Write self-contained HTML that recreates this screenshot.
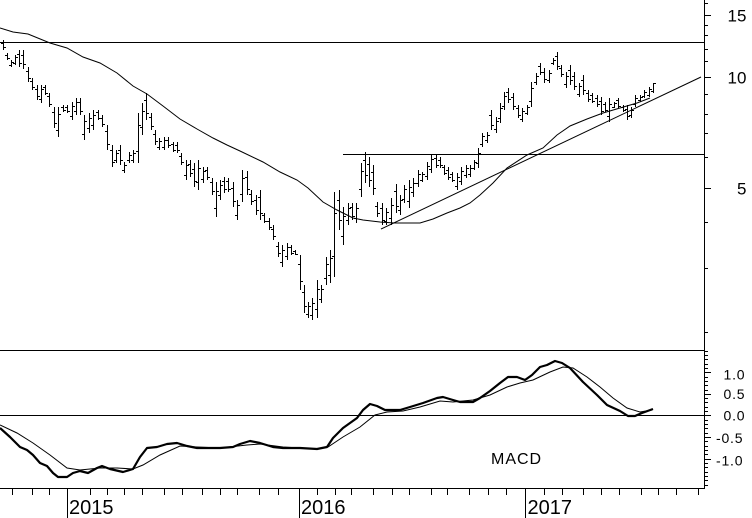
<!DOCTYPE html>
<html>
<head>
<meta charset="utf-8">
<style>
html,body{margin:0;padding:0;background:#fff;}
svg{display:block;}
text{font-family:"Liberation Sans",Arial,sans-serif;fill:#000;}
</style>
</head>
<body>
<svg width="752" height="518" viewBox="0 0 752 518" xmlns="http://www.w3.org/2000/svg">
<rect width="752" height="518" fill="#fff"/>

<!-- frame / axes -->
<g stroke="#000" stroke-width="1" shape-rendering="crispEdges" fill="none">
  <path d="M704.5 0V489"/>
  <path d="M0 42.5H704"/>
  <path d="M343 154.5H704"/>
  <path d="M0 350.5H704"/>
  <path d="M0 415.5H704"/>
  <path d="M0 488.5H704"/>
  <!-- price axis ticks -->
  <path d="M704 3.5h4M704 15.5h7M704 25.5h4M704 35.5h4M704 49.5h4M704 61.5h4M704 77.5h7M704 94.5h4M704 114.5h4M704 133.5h4M704 157.5h4M704 188.5h7M704 222.5h4M704 268.5h4M704 332.5h4"/>
  <!-- macd axis ticks -->
  <path d="M704 351.5h4M704 355.5h4M704 359.5h4M704 364.5h4M704 368.5h4M704 372.5h7M704 377.5h4M704 381.5h4M704 385.5h4M704 390.5h4M704 394.5h7M704 398.5h4M704 402.5h4M704 407.5h4M704 411.5h4M704 415.5h7M704 420.5h4M704 424.5h4M704 428.5h4M704 433.5h4M704 437.5h7M704 441.5h4M704 446.5h4M704 450.5h4M704 454.5h4M704 459.5h7M704 463.5h4M704 467.5h4M704 472.5h4M704 476.5h4M704 480.5h4M704 485.5h4"/>
  <!-- month ticks -->
  <path d="M12.5 488V495M32.5 488V495M49.5 488V495M90.5 488V495M107.5 488V495M124.5 488V495M142.5 488V495M164.5 488V495M182.5 488V495M202.5 488V495M220.5 488V495M237.5 488V495M259.5 488V495M278.5 488V495M317.5 488V495M335.5 488V495M351.5 488V495M373.5 488V495M392.5 488V495M409.5 488V495M431.5 488V495M447.5 488V495M469.5 488V495M488.5 488V495M506.5 488V495M544.5 488V495M562.5 488V495M583.5 488V495M601.5 488V495M619.5 488V495M641.5 488V495M658.5 488V495M676.5 488V495M698.5 488V495"/>
  <!-- year ticks -->
  <path d="M67.5 488V518M299.5 488V518M525.5 488V518"/>
</g>

<!-- price bars -->
<g stroke="#000" stroke-width="1" shape-rendering="crispEdges" fill="none">
<path d="M3.5 40V50M7.5 53V60M11.5 60V67M15.5 55V65M19.5 50V67M23.5 50V69M28.5 67V82M32.5 78V90M37.5 85V100M41.5 85V103M45.5 85V95M49.5 93V107M54.5 107V128M58.5 107V137M63.5 105V112M67.5 105V113M72.5 102V120M76.5 98V115M80.5 98V115M84.5 115V140M89.5 113V133M93.5 110V130M98.5 110V120M102.5 115V127M107.5 125V150M112.5 145V167M116.5 150V163M120.5 145V165M124.5 162V173M129.5 152V163M133.5 150V163M138.5 113V163M142.5 103V135M146.5 93V120M151.5 113V130M155.5 130V145M159.5 138V150M164.5 137V150M168.5 137V148M173.5 142V152M177.5 142V153M181.5 153V165M186.5 160V180M190.5 160V177M194.5 163V187M198.5 160V190M203.5 167V183M207.5 167V180M212.5 178V195M216.5 182V217M220.5 180V200M224.5 177V193M228.5 178V192M233.5 182V207M237.5 200V220M242.5 170V202M247.5 171V195M251.5 190V205M256.5 195V215M260.5 190V220M264.5 213V223M269.5 218V230M273.5 225V240M278.5 242V257M282.5 245V267M287.5 243V260M291.5 245V255M295.5 250V255M300.5 255V290M304.5 285V313M308.5 302V318M312.5 298V320M317.5 280V318M321.5 285V303M326.5 257V285M330.5 250V283M334.5 192V277M339.5 190V230M343.5 207V245M348.5 203V225M352.5 203V220M356.5 203V223M361.5 163V197M365.5 152V183M369.5 157V187M373.5 165V195M377.5 202V217M382.5 203V225M386.5 208V225M391.5 198V225M396.5 184V213M400.5 195V215M404.5 185V203M409.5 180V208M413.5 178V197M418.5 170V187M422.5 172V182M427.5 162V180M431.5 155V173M436.5 155V168M440.5 157V168M444.5 165V175M448.5 167V180M452.5 172V182M457.5 173V190M461.5 167V185M466.5 165V178M470.5 165V177M474.5 160V170M478.5 148V168M482.5 133V147M487.5 132V143M491.5 110V130M496.5 117V133M500.5 103V123M504.5 92V110M508.5 88V103M513.5 93V110M518.5 105V118M522.5 108V122M527.5 105V115M531.5 82V107M536.5 73V85M540.5 63V75M544.5 68V83M549.5 70V83M553.5 58V65M557.5 52V70M561.5 65V77M566.5 72V88M570.5 65V85M574.5 72V90M579.5 83V97M583.5 75V95M588.5 90V102M592.5 93V103M597.5 95V107M601.5 97V115M605.5 102V112M609.5 98V122M614.5 102V108M618.5 98V108M623.5 105V112M627.5 105V120M631.5 107V118M635.5 95V107M640.5 95V102M644.5 90V98M649.5 87V97M653.5 83V93"/>
<path d="M1 43.5h2M4 47.5h2M5 55.5h2M8 58.5h2M9 65.5h2M12 62.5h2M13 63.5h2M16 57.5h2M17 54.5h2M20 63.5h2M21 55.5h2M24 64.5h2M26 71.5h2M29 78.5h2M30 81.5h2M33 87.5h2M35 89.5h2M38 96.5h2M39 99.5h2M42 89.5h2M43 87.5h2M46 93.5h2M47 96.5h2M50 104.5h2M52 112.5h2M55 123.5h2M56 130.5h2M59 114.5h2M61 107.5h2M64 110.5h2M65 107.5h2M68 111.5h2M70 116.5h2M73 106.5h2M74 111.5h2M77 102.5h2M78 102.5h2M81 111.5h2M82 134.5h2M85 121.5h2M87 128.5h2M90 118.5h2M91 125.5h2M94 115.5h2M96 112.5h2M99 118.5h2M100 118.5h2M103 124.5h2M105 131.5h2M108 144.5h2M110 150.5h2M113 162.5h2M114 160.5h2M117 153.5h2M118 150.5h2M121 160.5h2M122 170.5h2M125 165.5h2M127 160.5h2M130 155.5h2M131 160.5h2M134 153.5h2M136 151.5h2M139 125.5h2M140 127.5h2M143 111.5h2M144 100.5h2M147 113.5h2M149 117.5h2M152 126.5h2M153 134.5h2M156 141.5h2M157 147.5h2M160 141.5h2M162 147.5h2M165 140.5h2M166 140.5h2M169 145.5h2M171 144.5h2M174 150.5h2M175 145.5h2M178 150.5h2M179 156.5h2M182 162.5h2M184 175.5h2M187 165.5h2M188 164.5h2M191 173.5h2M192 169.5h2M195 181.5h2M196 182.5h2M199 168.5h2M201 179.5h2M204 171.5h2M205 170.5h2M208 177.5h2M210 182.5h2M213 191.5h2M214 208.5h2M217 191.5h2M218 195.5h2M221 185.5h2M222 181.5h2M225 189.5h2M226 181.5h2M229 189.5h2M231 188.5h2M234 201.5h2M235 215.5h2M238 205.5h2M240 194.5h2M243 178.5h2M245 177.5h2M248 189.5h2M249 194.5h2M252 201.5h2M254 200.5h2M257 210.5h2M258 197.5h2M261 213.5h2M262 215.5h2M265 221.5h2M267 221.5h2M270 227.5h2M271 229.5h2M274 236.5h2M276 246.5h2M279 253.5h2M280 262.5h2M283 250.5h2M285 256.5h2M288 247.5h2M289 247.5h2M292 253.5h2M293 251.5h2M296 254.5h2M298 264.5h2M301 281.5h2M302 292.5h2M305 306.5h2M306 314.5h2M309 306.5h2M310 315.5h2M313 303.5h2M315 309.5h2M318 289.5h2M319 299.5h2M322 289.5h2M324 278.5h2M327 264.5h2M328 275.5h2M331 258.5h2M332 256.5h2M335 213.5h2M337 200.5h2M340 220.5h2M341 236.5h2M344 216.5h2M346 220.5h2M349 208.5h2M350 207.5h2M353 216.5h2M354 218.5h2M357 208.5h2M359 189.5h2M362 171.5h2M363 160.5h2M366 175.5h2M367 164.5h2M370 180.5h2M371 172.5h2M374 188.5h2M375 206.5h2M378 213.5h2M380 208.5h2M383 220.5h2M384 221.5h2M387 212.5h2M389 218.5h2M392 205.5h2M394 191.5h2M397 206.5h2M398 210.5h2M401 200.5h2M402 199.5h2M405 189.5h2M407 201.5h2M410 187.5h2M411 192.5h2M414 183.5h2M416 183.5h2M419 174.5h2M420 180.5h2M423 174.5h2M425 176.5h2M428 166.5h2M429 169.5h2M432 159.5h2M434 158.5h2M437 165.5h2M438 160.5h2M441 165.5h2M442 167.5h2M445 173.5h2M446 170.5h2M449 177.5h2M450 174.5h2M453 180.5h2M455 186.5h2M458 177.5h2M459 181.5h2M462 171.5h2M464 175.5h2M467 168.5h2M468 174.5h2M471 168.5h2M472 168.5h2M475 162.5h2M476 163.5h2M479 153.5h2M480 144.5h2M483 136.5h2M485 140.5h2M488 135.5h2M489 115.5h2M492 125.5h2M494 129.5h2M497 121.5h2M498 118.5h2M501 108.5h2M502 106.5h2M505 96.5h2M506 92.5h2M509 99.5h2M511 97.5h2M514 106.5h2M516 108.5h2M519 115.5h2M520 119.5h2M523 111.5h2M525 113.5h2M528 107.5h2M529 101.5h2M532 88.5h2M534 82.5h2M537 76.5h2M538 66.5h2M541 72.5h2M542 72.5h2M545 79.5h2M547 80.5h2M550 73.5h2M551 63.5h2M554 60.5h2M555 56.5h2M558 66.5h2M559 68.5h2M562 74.5h2M564 84.5h2M567 76.5h2M568 70.5h2M571 80.5h2M572 76.5h2M575 86.5h2M577 94.5h2M580 86.5h2M581 80.5h2M584 90.5h2M586 93.5h2M589 99.5h2M590 95.5h2M593 101.5h2M595 98.5h2M598 104.5h2M599 101.5h2M602 111.5h2M603 104.5h2M606 110.5h2M607 116.5h2M610 104.5h2M612 107.5h2M615 103.5h2M616 100.5h2M619 106.5h2M621 107.5h2M624 110.5h2M625 109.5h2M628 116.5h2M629 115.5h2M632 110.5h2M633 104.5h2M636 98.5h2M638 100.5h2M641 97.5h2M642 96.5h2M645 92.5h2M647 95.5h2M650 89.5h2M651 91.5h2M654 83.5h2"/>
</g>

<!-- moving average -->
<polyline fill="none" stroke="#000" stroke-width="1" points="0,28 13,32 28,34 50,43 67,48 83,57 100,63 117,73 133,86 147,94 163,106 180,119 197,129 213,138 227,145 240,151 263,162 280,172 297,180 308,188 323,202 337,210 353,218 363,220 380,222 395,223 420,223 433,219 447,213 460,208 470,203 480,195 493,183 507,168 527,155 543,148 557,135 570,126 587,119 603,113 620,108 637,103 650,98"/>
<!-- trend line -->
<line x1="381" y1="229" x2="701" y2="77" stroke="#000" stroke-width="1"/>

<!-- MACD -->
<polyline fill="none" stroke="#000" stroke-width="1" points="0,425 17,433 33,443 50,455 67,468 80,470 100,468 117,468 133,469 143,465 160,455 180,446 197,447 220,448 247,445 260,444 283,447 317,449 328,447 343,437 360,427 375,415 387,412 403,411 420,407 440,401 453,402 473,400 490,395 507,387 520,383 533,380 550,372 563,367 573,368 587,377 600,387 613,398 627,408 640,412 652,410"/>
<polyline fill="none" stroke="#000" stroke-width="2.2" stroke-linejoin="round" points="0,428 10,437 20,447 27,450 33,455 40,463 47,466 53,473 58,477 67,477 73,473 80,471 88,473 97,468 102,466 110,469 123,472 133,469 140,457 147,448 157,447 167,444 177,443 187,446 197,448 220,448 233,447 240,444 250,441 260,443 273,447 283,448 300,448 317,449 327,447 333,438 343,428 357,418 363,410 370,404 377,406 385,410 400,410 410,407 423,403 437,398 443,397 453,400 460,402 473,402 480,398 490,391 500,383 508,377 517,377 525,380 532,375 540,367 547,365 555,361 562,363 570,368 583,382 597,395 607,405 620,411 628,416 635,416 642,413 653,409"/>

<!-- labels -->
<g font-size="17">
  <text x="727.5" y="21.5">15</text>
  <text x="727.5" y="83.5">10</text>
  <text x="737" y="194.5">5</text>
</g>
<g font-size="14" letter-spacing="0.8">
  <text x="723.5" y="379.5">1.0</text>
  <text x="723.5" y="399">0.5</text>
  <text x="723.5" y="420.5">0.0</text>
  <text x="716" y="443">-0.5</text>
  <text x="716" y="465.5">-1.0</text>
</g>
<text x="491" y="464" font-size="16" letter-spacing="1">MACD</text>
<g font-size="20">
  <text x="69" y="514">2015</text>
  <text x="301" y="514">2016</text>
  <text x="527.5" y="514">2017</text>
</g>
</svg>
</body>
</html>
